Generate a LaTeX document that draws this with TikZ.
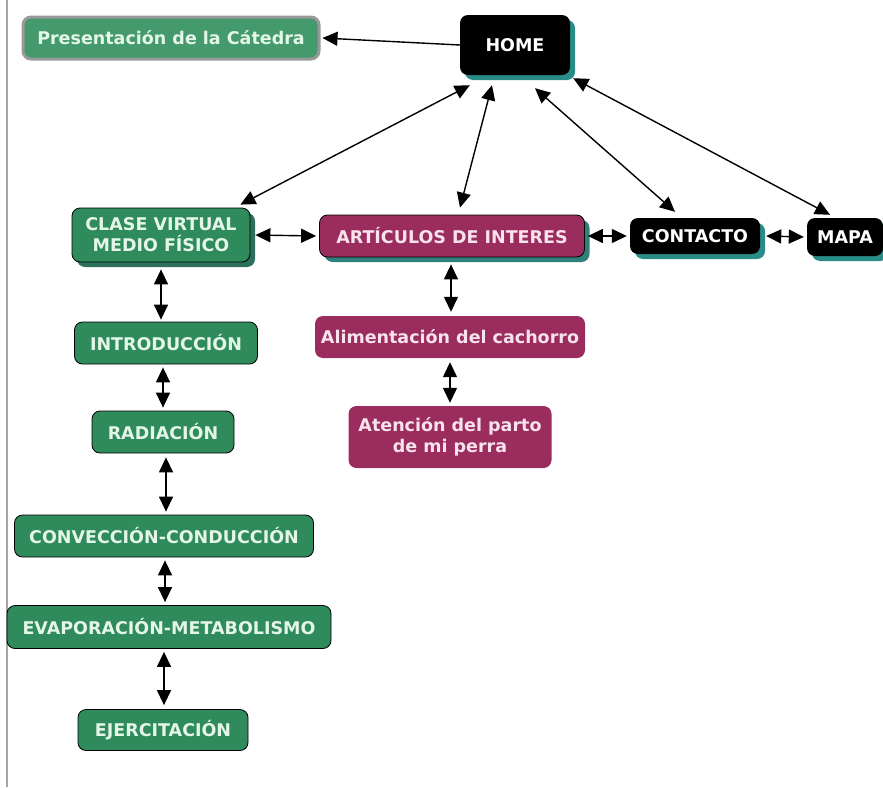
\documentclass[tikz,border=0pt]{standalone}
\usepackage{fontspec}
\setmainfont{DejaVu Sans}
\usetikzlibrary{arrows.meta,shadows,calc}
\definecolor{gfill}{HTML}{2F8A5C}
\definecolor{gpres}{HTML}{449A6C}
\definecolor{pfill}{HTML}{9A2C5E}
\definecolor{gtext}{HTML}{E4F6E8}
\definecolor{ptext}{HTML}{F8E2EC}
\definecolor{tealsh}{HTML}{2A8C88}
\definecolor{greensh}{HTML}{2B6F5C}
\definecolor{purpsh}{HTML}{2F7F7A}
\begin{document}
\begin{tikzpicture}[x=1pt,y=-1pt,
  base/.style={rounded corners=8pt, align=center, inner sep=0pt,
    font=\fontsize{17.5}{21}\selectfont\bfseries},
  gbox/.style={base, fill=gfill, draw=black, line width=0.8pt, text=gtext},
  pbox/.style={base, fill=pfill, text=ptext},
  bbox/.style={base, fill=black, text=white},
  shT/.style={drop shadow={shadow xshift=5pt, shadow yshift=-5pt, fill=tealsh, opacity=1}},
  shG/.style={drop shadow={shadow xshift=5pt, shadow yshift=-5pt, fill=greensh, opacity=1}},
  shP/.style={drop shadow={shadow xshift=5pt, shadow yshift=-5pt, fill=purpsh, opacity=1}},
  link/.style={line width=1.4pt, {Triangle[length=15pt,width=14pt]}-{Triangle[length=15pt,width=14pt]}},
  onelink/.style={line width=1.4pt, -{Triangle[length=15pt,width=14pt]}}
]
\useasboundingbox (0,0) rectangle (883,787);
\draw[gray!70, line width=1.3pt] (7,0) -- (7,787);

\node[base, fill=gpres, draw=gray!80, line width=3pt, text=gtext, minimum width=296pt, minimum height=42pt] (pres) at (171,38) {Presentación de la Cátedra};
\node[bbox, shT, minimum width=110pt, minimum height=60pt] (home) at (515,45) {HOME};
\node[gbox, shG, minimum width=178pt, minimum height=54pt] (clase) at (161,235) {CLASE VIRTUAL\\MEDIO FÍSICO};
\node[pbox, shP, draw=black, line width=0.8pt, minimum width=265pt, minimum height=42pt] (art) at (452,236) {ARTÍCULOS DE INTERES};
\node[bbox, shT, minimum width=130pt, minimum height=36pt] (contacto) at (695,236) {CONTACTO};
\node[bbox, shT, minimum width=76pt, minimum height=38pt] (mapa) at (845,237) {MAPA};
\node[gbox, minimum width=183pt, minimum height=42pt] (intro) at (166,343) {INTRODUCCIÓN};
\node[gbox, minimum width=142pt, minimum height=42pt] (rad) at (163,432) {RADIACIÓN};
\node[gbox, minimum width=299pt, minimum height=42pt] (conv) at (164,536) {CONVECCIÓN-CONDUCCIÓN};
\node[gbox, minimum width=324pt, minimum height=43pt] (evap) at (169,627) {EVAPORACIÓN-METABOLISMO};
\node[gbox, minimum width=170pt, minimum height=41pt] (ejer) at (163,730) {EJERCITACIÓN};
\node[pbox, minimum width=270pt, minimum height=42pt] (alim) at (450,337) {Alimentación del cachorro};
\node[pbox, minimum width=203pt, minimum height=62pt] (aten) at (450,437) {Atención del parto\\de mi perra};

\draw[onelink] (home.west) -- ([xshift=2pt]pres.east);
\draw[link] ($(clase.north east)+(-10,-3)$) -- ($(home.south west)+(10,10)$);
\draw[link] ($(art.north)+(8,-7)$) -- ($(home.south)+(-23,10)$);
\draw[link] ($(contacto.north)+(-20,-6)$) -- ($(home.south)+(20,13)$);
\draw[link] ($(mapa.north)+(-15,-3)$) -- ($(home.south east)+(3,3)$);
\draw[link] ([xshift=5pt]clase.east) -- ([xshift=-3pt]art.west);
\draw[link] ([xshift=3pt]art.east) -- ([xshift=-3pt]contacto.west);
\draw[link] ([xshift=6pt]contacto.east) -- ([xshift=-3pt]mapa.west);
\draw[link] ([yshift=-7pt]clase.south) -- ([yshift=2pt]clase.south |- intro.north);
\draw[link] ([xshift=-3pt,yshift=-3pt]intro.south) -- ([xshift=-3pt,yshift=3pt]intro.south |- rad.north);
\draw[link] ([xshift=3pt,yshift=-4pt]rad.south) -- ([xshift=3pt,yshift=3pt]rad.south |- conv.north);
\draw[link] ([xshift=1pt,yshift=-3pt]conv.south) -- ([xshift=1pt,yshift=3pt]conv.south |- evap.north);
\draw[link] ([xshift=-5pt,yshift=-3pt]evap.south) -- ([xshift=-5pt,yshift=4pt]evap.south |- ejer.north);
\draw[link] ([xshift=-1pt,yshift=-7pt]art.south) -- ([xshift=-1pt,yshift=4pt]art.south |- alim.north);
\draw[link] ([yshift=-4pt]alim.south) -- ([yshift=3pt]alim.south |- aten.north);
\end{tikzpicture}
\end{document}
